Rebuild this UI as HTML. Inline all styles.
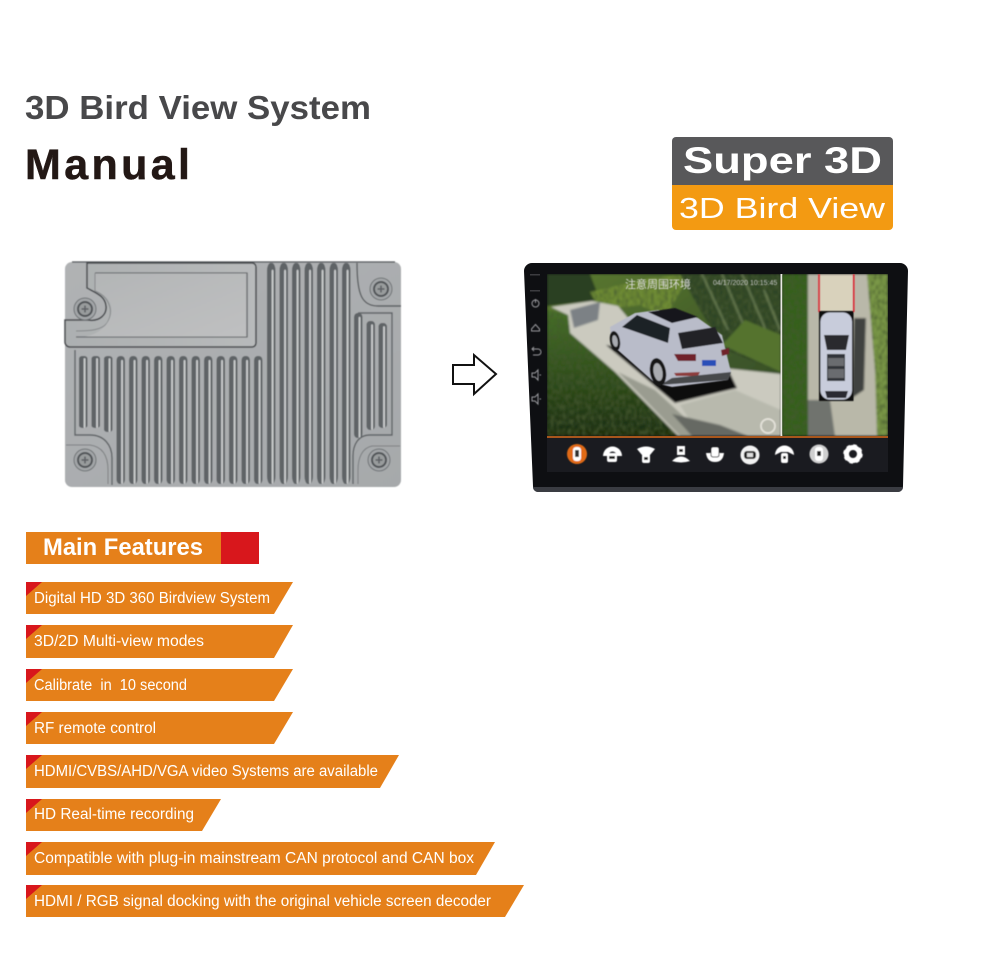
<!DOCTYPE html>
<html lang="en">
<head>
<meta charset="utf-8">
<title>3D Bird View System Manual</title>
<style>
html,body{margin:0;padding:0;background:#fff;width:1000px;height:969px;overflow:hidden}
svg{display:block}
text{font-family:"Liberation Sans",sans-serif}
.b{fill:#fff;font-size:15.5px}
</style>
</head>
<body>
<svg width="1000" height="969" viewBox="0 0 1000 969" xmlns="http://www.w3.org/2000/svg">
<defs>
  <linearGradient id="metal" x1="0" y1="0" x2="1" y2="1"><stop offset="0" stop-color="#b0b2b4"/><stop offset="1" stop-color="#a6a9ab"/></linearGradient>
  <linearGradient id="lid" x1="0" y1="0" x2="1" y2="0"><stop offset="0" stop-color="#adb0b1"/><stop offset="1" stop-color="#b8babb"/></linearGradient>
  <linearGradient id="inner" x1="0" y1="0" x2="1" y2="1"><stop offset="0" stop-color="#b3b5b6"/><stop offset="1" stop-color="#bfc0c1"/></linearGradient>
  <linearGradient id="lowGrass" x1="0" y1="0" x2="0" y2="1"><stop offset="0" stop-color="#47702a"/><stop offset=".6" stop-color="#2c4a1a"/><stop offset="1" stop-color="#1a2b10"/></linearGradient>
  <linearGradient id="grassTop" x1="0" y1="0" x2="1" y2="1"><stop offset="0" stop-color="#5b7a30"/><stop offset="1" stop-color="#2f4526"/></linearGradient>
  <filter id="bl1"><feGaussianBlur stdDeviation="0.45"/></filter>
  <filter id="bl2"><feGaussianBlur stdDeviation="1.1"/></filter>
  <filter id="grain" x="0" y="0" width="100%" height="100%">
    <feTurbulence type="fractalNoise" baseFrequency="0.35 0.2" numOctaves="2" seed="4" result="n"/>
    <feColorMatrix in="n" type="matrix" values="0 0 0 0 0.06  0 0 0 0 0.1  0 0 0 0 0.03  2.2 0 0 0 -0.85" result="d"/>
    <feComposite in="d" in2="SourceAlpha" operator="in" result="c"/>
    <feMerge><feMergeNode in="SourceGraphic"/><feMergeNode in="c"/></feMerge>
  </filter>
  <clipPath id="leftView"><rect x="547" y="274" width="234" height="162"/></clipPath>
  <clipPath id="rightView"><rect x="782" y="274" width="106" height="162"/></clipPath>
  <g id="fin">
    <rect x="0" y="0" width="8.500" height="100" rx="3.500" fill="#5f6366"/>
    <rect x="4.600" y="3" width="1.900" height="97" rx="0.900" fill="#c9cbcc"/>
  </g>
  <g id="screw">
    <circle r="11" fill="#a3a6a8" stroke="#6e7275" stroke-width="1"/>
    <circle r="8" fill="#4f5356"/>
    <circle r="6" fill="#999c9d"/>
    <path d="M-3.500 0H3.500M0-3.500V3.500" stroke="#5b5f63" stroke-width="1.500"/>
  </g>
</defs>

<rect width="1000" height="969" fill="#fff"/>

<!-- Titles -->
<text x="25" y="119" font-size="33" font-weight="700" fill="#48484a" textLength="346" lengthAdjust="spacingAndGlyphs">3D Bird View System</text>
<text x="25" y="179" font-size="43" font-weight="700" fill="#231815" stroke="#231815" stroke-width=".5" textLength="165" lengthAdjust="spacing">Manual</text>

<!-- Badge -->
<path d="M676 137H889a4 4 0 0 1 4 4V187H672V141a4 4 0 0 1 4-4Z" fill="#58585a"/>
<path d="M672 185H893V226a4 4 0 0 1-4 4H676a4 4 0 0 1-4-4Z" fill="#f39a12"/>
<text x="683" y="173" font-size="37" font-weight="700" fill="#fff" textLength="199" lengthAdjust="spacingAndGlyphs">Super 3D</text>
<text x="679" y="218" font-size="29" fill="#fff" textLength="206" lengthAdjust="spacingAndGlyphs">3D Bird View</text>

<!-- Module -->
<g filter="url(#bl1)">
  <rect x="65" y="262" width="336" height="225" rx="7" fill="url(#metal)"/>
  <path d="M72 262H395" stroke="#4e5154" stroke-width="1.200"/>
  <!-- vertical fins right -->
  <g transform="translate(267,263) scale(1,2.21)">
    <use href="#fin"/><use href="#fin" x="12.500"/><use href="#fin" x="25"/><use href="#fin" x="37.500"/><use href="#fin" x="50"/><use href="#fin" x="62.500"/><use href="#fin" x="75"/>
  </g>
  <!-- lower fins -->
  <g transform="translate(79,356) scale(1,.72)"><use href="#fin"/></g>
  <g transform="translate(91.500,356) scale(1,.72)"><use href="#fin"/></g>
  <g transform="translate(104,356) scale(1,.76)"><use href="#fin"/></g>
  <g transform="translate(116.500,356) scale(1,1.28)">
    <use href="#fin"/><use href="#fin" x="12.500"/><use href="#fin" x="25"/><use href="#fin" x="37.500"/><use href="#fin" x="50"/><use href="#fin" x="62.500"/><use href="#fin" x="75"/><use href="#fin" x="87.500"/><use href="#fin" x="100"/><use href="#fin" x="112.500"/><use href="#fin" x="125"/><use href="#fin" x="137.500"/>
  </g>
  <!-- right short fins -->
  <g transform="translate(354,313) scale(1,1.25)"><use href="#fin"/></g>
  <g transform="translate(366.500,321) scale(1,1.09)"><use href="#fin"/></g>
  <g transform="translate(378.500,323) scale(1,1.05)"><use href="#fin"/></g>
  <!-- frame lines -->
  <path d="M75 350V435H90C104 435 112 445 112 458V485" fill="none" stroke="#5f6366" stroke-width="1.400"/>
  <path d="M358 313H392V435H370C358 435 353 445 353 456V484" fill="none" stroke="#5f6366" stroke-width="1.400"/>
  <!-- lid -->
  <path d="M87 263H252a4 4 0 0 1 4 4V343a4 4 0 0 1-4 4H70a5 5 0 0 1-5-5V320H88C100 322 107 314 106 306C105 296 96 293 87 288Z" fill="url(#lid)" stroke="#474a4d" stroke-width="1.500"/>
  <path d="M95 273H247V337H76" fill="none" stroke="#6a6d70" stroke-width="1.300"/>
  <path d="M95 273V291C108 296 115 310 107 323C102 330 90 331 76 331" fill="none" stroke="#85888a" stroke-width="1"/>
  <path d="M95.500 273.500H246.500V336.500H85C104 334 116 316 110 302C107 296 100 293 95.500 290Z" fill="url(#inner)"/>
  <path d="M247 273V337" stroke="#6a6d70" stroke-width="1.300"/>
  <!-- corners -->
  <path d="M357 263C357 295 362 306 378 306H401" fill="none" stroke="#5b5f62" stroke-width="1.400"/>
  <path d="M66 445H90C104 447 108 458 108 470V484" fill="none" stroke="#7b7e81" stroke-width="1"/>
  <path d="M400 446H372C362 448 358 458 358 470V484" fill="none" stroke="#7b7e81" stroke-width="1"/>
  <use href="#screw" x="85" y="309"/>
  <use href="#screw" x="381" y="289"/>
  <use href="#screw" x="85" y="460"/>
  <use href="#screw" x="379" y="460"/>
</g>

<!-- Arrow -->
<path d="M453 365H474V355L496 374L474 394V384H453Z" fill="#fff" stroke="#111" stroke-width="2"/>

<!-- Head unit -->
<path d="M532 263H900a8 8 0 0 1 8 8L903 486a6 6 0 0 1-6 6H539a6 6 0 0 1-6-6L524 271a8 8 0 0 1 8-8Z" fill="#0e0f12"/>
<path d="M533 488a5 5 0 0 0 5 4H898a5 5 0 0 0 5-4V487H533Z" fill="#3a3c42"/>

<g clip-path="url(#leftView)">
 <g filter="url(#bl2)">
  <rect x="547" y="274" width="234" height="162" fill="url(#grassTop)"/>
  <path d="M547 274H590L600 300L547 306Z" fill="#2a3f20"/>
  <path d="M590 292L650 278L690 274L665 318L640 305L600 310Z" fill="#6f8d36" filter="url(#grain)"/>
  <path d="M680 274L781 274V372L725 350L700 310Z" fill="#2f4527" filter="url(#grain)"/>
  <path d="M702 274L728 330M722 274L752 345M742 274L770 340M764 290L780 330" stroke="#95a676" stroke-width="2" opacity=".5"/>
  <path d="M722 345L781 372V335L745 320Z" fill="#55732e"/>
  <path d="M551 307L592 301L618 306L665 362L781 374V436H678L570 333L568 315Z" fill="#cbcabf"/>
  <path d="M570 310L600 302L598 320L574 328Z" fill="#7b8185"/>
  <path d="M547 310L568 315L570 333L615 372L678 436H547Z" fill="url(#lowGrass)" filter="url(#grain)"/>
  <path d="M618 372L680 436H705L655 390Z" fill="#9a9c90"/>
  <path d="M680 405L735 390L781 410V436H700Z" fill="#b8b9ad"/>
  <path d="M672 414L720 425L748 436H692Z" fill="#666963"/>
  <path d="M606 345L675 403L737 388L726 365Z" fill="#070807"/>
 </g>
 <g filter="url(#bl1)">
  <path d="M610 327L635 313L658 310L698 318L722 335L731 372L728 380L672 387L655 383L612 345Z" fill="#b9bcc9"/>
  <path d="M648 312L675 308L698 317L672 323Z" fill="#17181b"/>
  <path d="M622 327L637 315L670 328L668 343Z" fill="#1f2126"/>
  <path d="M678 333L715 327L723 343L682 349Z" fill="#202125"/>
  <path d="M674 354L696 354L696 361L678 361Z" fill="#70242a"/>
  <path d="M721 350L729 348L729 354L722 356Z" fill="#70242a"/>
  <rect x="702" y="360" width="14" height="6" fill="#2a50b8"/>
  <path d="M674 373L700 372L698 376L676 376Z" fill="#8d3c3c"/>
  <path d="M660 385L728 380L731 372L672 378Z" fill="#46484c"/>
  <ellipse cx="658" cy="372" rx="8" ry="14" transform="rotate(-10 658 372)" fill="#121315"/>
  <ellipse cx="658" cy="372" rx="4.500" ry="9" transform="rotate(-10 658 372)" fill="#a9abb0"/>
  <ellipse cx="615" cy="341" rx="5" ry="10" transform="rotate(-10 615 341)" fill="#121315"/>
  <ellipse cx="615" cy="341" rx="2.700" ry="6" transform="rotate(-10 615 341)" fill="#a9abb0"/>
  <circle cx="768" cy="426" r="7" fill="none" stroke="#eceae2" stroke-width="2" opacity=".8"/>
  <text x="625" y="288" font-size="11" fill="#ddd" font-family="'Liberation Sans','Noto Sans CJK SC',sans-serif">注意周围环境</text>
  <text x="713" y="285" font-size="7" fill="#c8c8c8">04/17/2020 10:15:45</text>
 </g>
</g>
<rect x="780.500" y="274" width="2" height="162" fill="#e9e9e4"/>

<g clip-path="url(#rightView)">
 <g filter="url(#bl2)">
  <rect x="782" y="274" width="106" height="162" fill="#b9b8a9"/>
  <rect x="782" y="274" width="26" height="162" fill="#36601f" filter="url(#grain)"/>
  <path d="M867 274H888V436H877L875 370Z" fill="#7a9846" filter="url(#grain)"/>
  <rect x="819" y="274" width="35" height="38" fill="#d9d2bc"/>
  <path d="M854 318H866L864 390L852 398Z" fill="#3f4340"/>
  <path d="M808 400H830L835 436H808Z" fill="#6f736e"/>
 </g>
 <g filter="url(#bl1)">
  <rect x="818.200" y="274" width="1.600" height="38" fill="#d82c34"/>
  <rect x="853" y="274" width="1.600" height="38" fill="#d82c34"/>
  <rect x="819" y="311" width="34.500" height="90" fill="#0b0b0c"/>
  <rect x="820.500" y="312.500" width="31.500" height="87" rx="9" fill="#c8ccdb"/>
  <path d="M824 335H849L846 350H827Z" fill="#2a2b2f"/>
  <rect x="827" y="354" width="18" height="27" fill="#32343a"/>
  <rect x="828" y="358" width="16" height="8" fill="#6a6c70"/>
  <rect x="828" y="369" width="16" height="9" fill="#6a6c70"/>
  <path d="M825 391H848L846 398H827Z" fill="#2b2c30"/>
 </g>
</g>

<!-- Bottom bar -->
<rect x="547" y="436" width="341" height="2" fill="#a8561c"/>
<rect x="547" y="438" width="341" height="34" fill="#1a1b20"/>
<g filter="url(#bl1)">
  <circle cx="577" cy="454" r="10" fill="#e06a18"/>
  <rect x="573" y="447" width="8" height="14" rx="3" fill="#fff"/>
  <rect x="575" y="450" width="4" height="7" fill="#333"/>

  <path d="M603 456a9.500 9.500 0 0 1 19 0H617a4.500 4.500 0 0 0-9 0Z" fill="#fff"/><rect x="607" y="453" width="10" height="9" rx="2" fill="#fff"/><rect x="609" y="456" width="6" height="3" fill="#222"/>
  <path d="M637 449Q646 444 655 449L650 455H642Z" fill="#fff"/><rect x="642" y="454" width="8" height="9" rx="2" fill="#fff"/><rect x="644" y="457" width="4" height="3" fill="#222"/>
  <rect x="677" y="446" width="8" height="9" fill="#fff"/><path d="M672 461Q681 452 690 461Q681 464 672 461Z" fill="#fff"/><rect x="679" y="449" width="4" height="3" fill="#222"/>
  <path d="M706 453H724Q723 462 715 462Q707 462 706 453Z" fill="#fff"/><rect x="711" y="447" width="8" height="10" rx="2" fill="#fff" stroke="#1a1b20"/>
  <circle cx="750" cy="455" r="9.500" fill="#f2f2f2"/><rect x="744" y="451" width="12" height="8" rx="3" fill="#222"/><rect x="747" y="453" width="6" height="4" fill="#ddd"/>
  <path d="M775 455a9.500 9.500 0 0 1 19 0L788 452H781Z" fill="#fff"/><rect x="781" y="453" width="7" height="10" rx="2" fill="#fff"/><rect x="783" y="456" width="3" height="3" fill="#222"/>
  <circle cx="819" cy="454" r="9.500" fill="#cfcfcf"/><rect x="815" y="447" width="8" height="14" rx="3" fill="#fff"/><rect x="817" y="451" width="4" height="5" fill="#222"/>
  <circle cx="853" cy="454" r="6.500" fill="none" stroke="#fff" stroke-width="5"/>
  <circle cx="853" cy="454" r="8.500" fill="none" stroke="#fff" stroke-width="2.500" stroke-dasharray="3.500 3.170"/>
</g>

<!-- Side buttons -->
<g fill="none" stroke="#9a9a9e" stroke-width="1" filter="url(#bl1)">
  <circle cx="535.500" cy="303.500" r="3.500"/><path d="M535.500 299V303"/>
  <path d="M531.500 329L535.500 324.500L539.500 329V331H531.500Z"/>
  <path d="M532 349H538a3 3 0 0 1 0 6H533M534 347L532 349L534 351"/>
  <path d="M532 373H535L538 370V380L535 377H532ZM539.500 375H541"/>
  <path d="M532 397H535L538 394V404L535 401H532ZM539.500 399H541"/>
</g>
<rect x="530" y="274" width="10" height="1.500" fill="#3c3c40"/>
<rect x="530" y="290" width="10" height="1.500" fill="#3c3c40"/>

<!-- Main Features -->
<rect x="26" y="532" width="195" height="32" fill="#e5801a"/>
<rect x="221" y="532" width="38" height="32" fill="#d8171c"/>
<text x="43" y="555" font-size="24" font-weight="700" fill="#fff" textLength="160" lengthAdjust="spacingAndGlyphs">Main Features</text>

<!-- Feature bars -->
<path d="M26 582H293L274 614H26Z" fill="#e5801a"/><path d="M26 582H42L26 596Z" fill="#d8171c"/>
<text class="b" x="34" y="603" textLength="236" lengthAdjust="spacingAndGlyphs">Digital HD 3D 360 Birdview System</text>

<path d="M26 625H293L274 658H26Z" fill="#e5801a"/><path d="M26 625H42L26 639Z" fill="#d8171c"/>
<text class="b" x="34" y="646" textLength="170" lengthAdjust="spacingAndGlyphs">3D/2D Multi-view modes</text>

<path d="M26 669H293L274 701H26Z" fill="#e5801a"/><path d="M26 669H42L26 683Z" fill="#d8171c"/>
<text class="b" x="34" y="690" textLength="153" lengthAdjust="spacingAndGlyphs" xml:space="preserve">Calibrate  in  10 second</text>

<path d="M26 712H293L274 744H26Z" fill="#e5801a"/><path d="M26 712H42L26 726Z" fill="#d8171c"/>
<text class="b" x="34" y="733" textLength="122" lengthAdjust="spacingAndGlyphs">RF remote control</text>

<path d="M26 755H399L380 788H26Z" fill="#e5801a"/><path d="M26 755H42L26 769Z" fill="#d8171c"/>
<text class="b" x="34" y="776" textLength="344" lengthAdjust="spacingAndGlyphs">HDMI/CVBS/AHD/VGA video Systems are available</text>

<path d="M26 799H221L202 831H26Z" fill="#e5801a"/><path d="M26 799H42L26 813Z" fill="#d8171c"/>
<text class="b" x="34" y="819" textLength="160" lengthAdjust="spacingAndGlyphs">HD Real-time recording</text>

<path d="M26 842H495L476 875H26Z" fill="#e5801a"/><path d="M26 842H42L26 856Z" fill="#d8171c"/>
<text class="b" x="34" y="863" textLength="440" lengthAdjust="spacingAndGlyphs">Compatible with plug-in mainstream CAN protocol and CAN box</text>

<path d="M26 885H524L505 917H26Z" fill="#e5801a"/><path d="M26 885H42L26 899Z" fill="#d8171c"/>
<text class="b" x="34" y="906" textLength="457" lengthAdjust="spacingAndGlyphs">HDMI / RGB signal docking with the original vehicle screen decoder</text>
</svg>
</body>
</html>
